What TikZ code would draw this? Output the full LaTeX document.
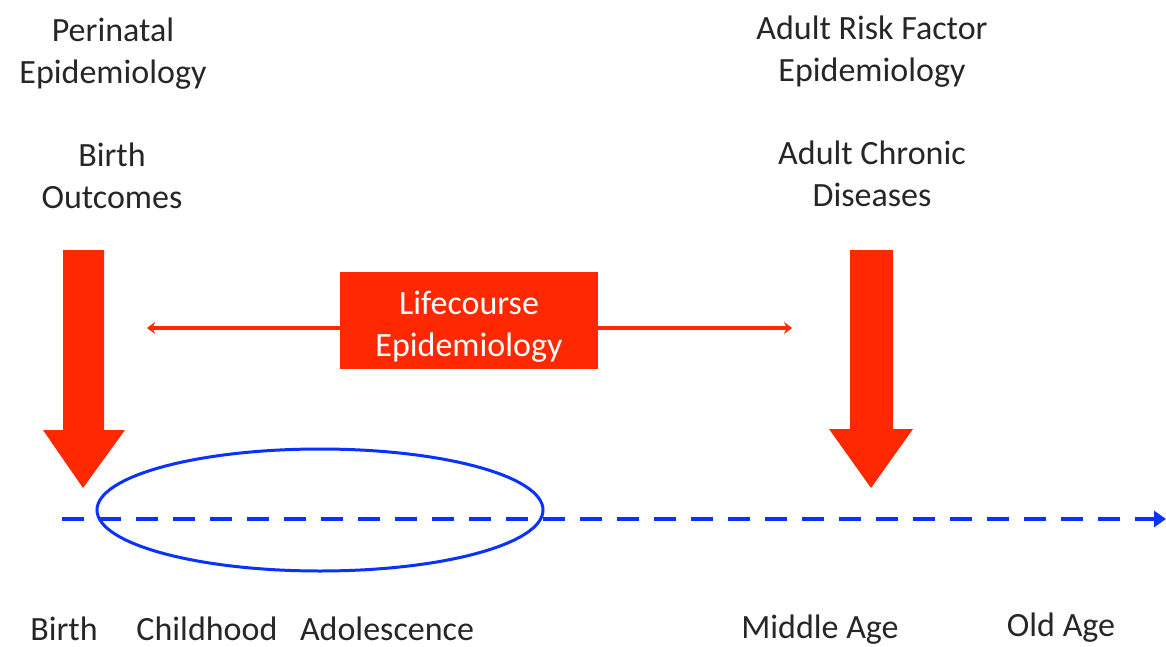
\documentclass[tikz,border=0pt]{standalone}
\usepackage{fontspec}
\setmainfont{Carlito}
\usetikzlibrary{arrows.meta,shapes.geometric}
\definecolor{epired}{RGB}{255,40,0}
\definecolor{lineblue}{RGB}{10,50,255}
\tikzset{
  lbl/.style={align=center,font=\fontsize{17pt}{21pt}\selectfont,text=black!85,inner sep=0pt},
  bigarrow/.style={fill=epired,draw=none},
  lifebox/.style={fill=epired,text=white,minimum width=129pt,minimum height=48.5pt,inner sep=0pt,align=center,font=\fontsize{17pt}{21pt}\selectfont},
  span/.style={draw=epired,line width=2pt},
  spantip/.style={-{Stealth[length=4pt,width=6pt]}},
  axis/.style={draw=lineblue,line width=2pt,dash pattern=on 11pt off 7.5pt,-{Triangle[length=6pt,width=8pt]}},
  oval/.style={ellipse,draw=lineblue,line width=1.5pt,minimum width=223pt,minimum height=61pt,inner sep=0pt}
}
\begin{document}
\begin{tikzpicture}[x=0.5pt,y=-0.5pt]
\useasboundingbox (0,0) rectangle (1166,647);
% top labels
\node[lbl] (peri) at (113,54) {Perinatal\\Epidemiology};
\node[lbl] (birthout) at (112,176) {Birth\\Outcomes};
\node[lbl] (adultrisk) at (872,52) {Adult Risk Factor\\Epidemiology};
\node[lbl] (chronic) at (872,174) {Adult Chronic\\Diseases};
% big arrows
\path[bigarrow] (63,250) -- (104,250) -- (104,430) -- (125,430) -- (83,488) -- (43,430) -- (63,430) -- cycle;
\path[bigarrow] (850,250) -- (893,250) -- (893,429) -- (913,429) -- (871,488) -- (829,429) -- (850,429) -- cycle;
% lifecourse box and span
\node[lifebox] (life) at (469,320) {\raisebox{-3.5pt}[\height][\depth]{\begin{tabular}{@{}c@{}}Lifecourse\\Epidemiology\end{tabular}}};
\coordinate (spanL) at (147,328);
\coordinate (spanR) at (792,328);
\draw[span,spantip] (life.west |- spanL) -- (spanL);
\draw[span,spantip] (life.east |- spanR) -- (spanR);
% ellipse and axis
\node[oval] (childoval) at (320,510) {};
\coordinate (axisL) at (62,519);
\coordinate (axisR) at (1166,519);
\draw[axis] (axisL) -- (axisR);
% bottom labels
\node[lbl] (birth) at (64,629) {Birth};
\node[lbl] (child) at (207,629) {Childhood};
\node[lbl] (adol) at (387,629) {Adolescence};
\node[lbl] (middle) at (820,630) {Middle Age};
\node[lbl] (old) at (1061,628) {Old Age};
\end{tikzpicture}
\end{document}
